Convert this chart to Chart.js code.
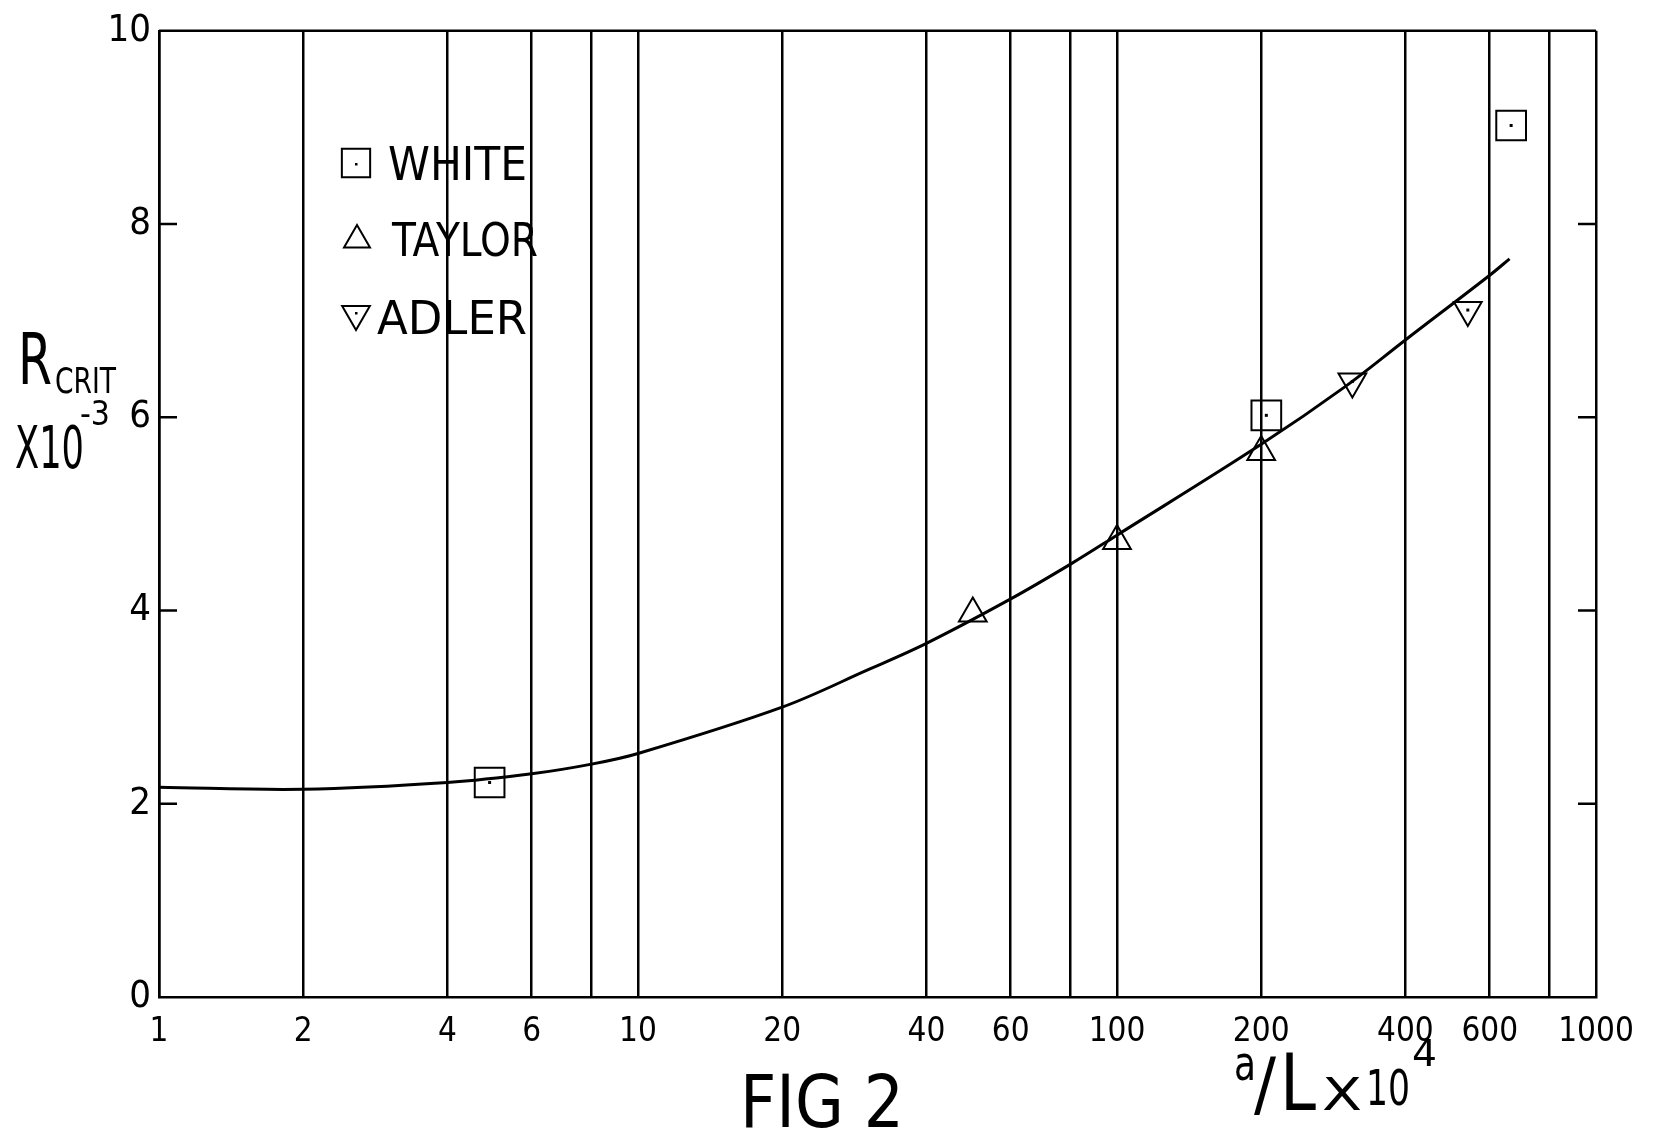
<!DOCTYPE html>
<html><head><meta charset="utf-8">
<script src="https://cdn.jsdelivr.net/npm/chart.js@4/dist/chart.umd.min.js"></script>
<style>html,body{margin:0;padding:0;background:#fff;}canvas{display:block;}</style>
</head><body>
<canvas id="c" width="1657" height="1133"></canvas>
<script>
// ---- data ----
const xTickValues = [1,2,4,6,8,10,20,40,60,80,100,200,400,600,800,1000];
const xTickLabels = ['1','2','4','6','','10','20','40','60','','100','200','400','600','','1000'];
const yTickValues = [0,2,4,6,8,10];
const yInnerTicks = [2,4,6,8];
const whiteX = [4.9, 205, 665];
const whiteY = [2.22, 6.02, 9.02];
const taylorX = [50, 100, 200];
const taylorY = [3.97, 4.72, 5.64];
const adlerX = [310, 540];
const adlerY = [6.37, 7.11];
const curveX = [1, 2, 4, 6, 8, 10, 20, 30, 40, 60, 80, 100, 200, 300, 400, 600, 660];
const curveY = [2.17, 2.15, 2.22, 2.31, 2.41, 2.52, 3.00, 3.38, 3.66, 4.12, 4.48, 4.78, 5.72, 6.32, 6.80, 7.47, 7.64];
const legendNames = ['WHITE', 'TAYLOR', 'ADLER'];

const FONT = "'Liberation Sans Narrow','DejaVu Sans Condensed','Liberation Sans','DejaVu Sans',sans-serif";
const pts = (xs, ys) => xs.map((x, i) => ({x: x, y: ys[i]}));

function fitText(ctx, str, left, right, baseline, size) {
  ctx.save();
  ctx.font = size + 'px ' + FONT;
  const w = ctx.measureText(str).width;
  ctx.translate(left, baseline);
  ctx.scale((right - left) / w, 1);
  ctx.textAlign = 'left';
  ctx.textBaseline = 'alphabetic';
  ctx.fillStyle = '#000';
  ctx.fillText(str, 0, 0);
  ctx.restore();
}

function marker(ctx, style, x, y, r, rot) {
  ctx.save();
  ctx.strokeStyle = '#000'; ctx.lineWidth = 2;
  ctx.beginPath();
  if (style === 'rect') {
    const s = r * Math.SQRT1_2;
    ctx.rect(x - s, y - s, 2 * s, 2 * s);
  } else {
    const a0 = rot ? Math.PI : 0;
    for (let k = 0; k < 3; k++) {
      const a = a0 + k * 2 * Math.PI / 3;
      const px = x + Math.sin(a) * r, py = y - Math.cos(a) * r;
      if (k === 0) ctx.moveTo(px, py); else ctx.lineTo(px, py);
    }
    ctx.closePath();
  }
  ctx.stroke();
  ctx.restore();
}

const decor = {
  id: 'decor',
  afterDatasetsDraw(chart) {
    const ctx = chart.ctx;
    [1, 3].forEach(di => {
      chart.getDatasetMeta(di).data.forEach(el => {
        ctx.save(); ctx.fillStyle = '#000';
        ctx.fillRect(el.x - 1.5, el.y - 1.5, 3, 3);
        ctx.restore();
      });
    });
  },
  afterDraw(chart) {
    const ctx = chart.ctx, a = chart.chartArea, y = chart.scales.y;
    ctx.save();
    ctx.strokeStyle = '#000'; ctx.lineWidth = 2.5;
    ctx.beginPath(); ctx.moveTo(a.left, a.top); ctx.lineTo(a.right, a.top); ctx.stroke();
    yInnerTicks.forEach(v => {
      const py = y.getPixelForValue(v);
      ctx.beginPath();
      ctx.moveTo(a.left, py); ctx.lineTo(a.left + 18, py);
      ctx.moveTo(a.right, py); ctx.lineTo(a.right - 18, py);
      ctx.stroke();
    });
    ctx.restore();

    // legend (inside plot, hand-lettered style)
    marker(ctx, 'rect', 356, 163, 20, false);
    ctx.fillRect(355, 163, 2.5, 2.5);
    marker(ctx, 'tri', 357, 240, 15, false);
    marker(ctx, 'tri', 356, 314, 16, true);
    ctx.fillRect(355, 312, 2.5, 2.5);
    fitText(ctx, legendNames[0], 388, 527, 180, 47);
    fitText(ctx, legendNames[1], 392, 538, 256, 47);
    fitText(ctx, legendNames[2], 377, 527, 334, 46);

    // y-axis title  R_CRIT x10^-3
    fitText(ctx, 'R', 18, 52, 384, 71);
    fitText(ctx, 'CRIT', 55, 116, 393, 36);
    fitText(ctx, 'X10', 15, 84, 468, 58);
    fitText(ctx, '-3', 80, 110, 425, 34);

    // x-axis title  a/L x10^4
    fitText(ctx, 'a', 1234, 1256, 1080, 48);
    fitText(ctx, '/', 1254, 1276, 1108, 72);
    fitText(ctx, 'L', 1280, 1316, 1110, 79);
    fitText(ctx, 'X', 1322, 1362, 1110, 45);
    fitText(ctx, '10', 1366, 1410, 1105, 49);
    fitText(ctx, '4', 1412, 1437, 1066, 38);

    // figure caption
    fitText(ctx, 'FIG 2', 740, 904, 1127, 73);
  }
};

new Chart(document.getElementById('c'), {
  type: 'line',
  data: {
    datasets: [
      {label: 'curve', data: pts(curveX, curveY), borderColor: '#000', borderWidth: 3,
       pointRadius: 0, tension: 0.35, fill: false},
      {label: legendNames[0], data: pts(whiteX, whiteY), showLine: false, pointStyle: 'rect',
       pointRadius: 21, borderColor: '#000', pointBorderWidth: 2, pointBackgroundColor: 'rgba(0,0,0,0)'},
      {label: legendNames[1], data: pts(taylorX, taylorY), showLine: false, pointStyle: 'triangle',
       pointRadius: 16, borderColor: '#000', pointBorderWidth: 2, pointBackgroundColor: 'rgba(0,0,0,0)'},
      {label: legendNames[2], data: pts(adlerX, adlerY), showLine: false, pointStyle: 'triangle',
       pointRotation: 180, pointRadius: 16, borderColor: '#000', pointBorderWidth: 2, pointBackgroundColor: 'rgba(0,0,0,0)'}
    ]
  },
  options: {
    responsive: false, animation: false, devicePixelRatio: 1,
    layout: {padding: {left: 59, right: 61, top: 27, bottom: 76}},
    plugins: {legend: {display: false}, tooltip: {enabled: false}},
    scales: {
      x: {
        type: 'logarithmic', min: 1, max: 1000,
        afterBuildTicks: s => { s.ticks = xTickValues.map(v => ({value: v})); },
        afterFit: s => { s.height = 60; },
        grid: {color: '#000', lineWidth: 2.5, drawTicks: false},
        border: {display: true, color: '#000', width: 2.5},
        ticks: {autoSkip: false, maxRotation: 0, padding: 16, color: '#000',
                font: {family: FONT, size: 33},
                callback: (v, i) => xTickLabels[i]}
      },
      y: {
        type: 'linear', min: 0, max: 10,
        afterBuildTicks: s => { s.ticks = yTickValues.map(v => ({value: v})); },
        afterFit: s => { s.width = 100; },
        grid: {display: false, drawTicks: false},
        border: {display: true, color: '#000', width: 2.5},
        ticks: {padding: 8, color: '#000', font: {family: FONT, size: 38}}
      }
    }
  },
  plugins: [decor]
});
</script>
</body></html>
